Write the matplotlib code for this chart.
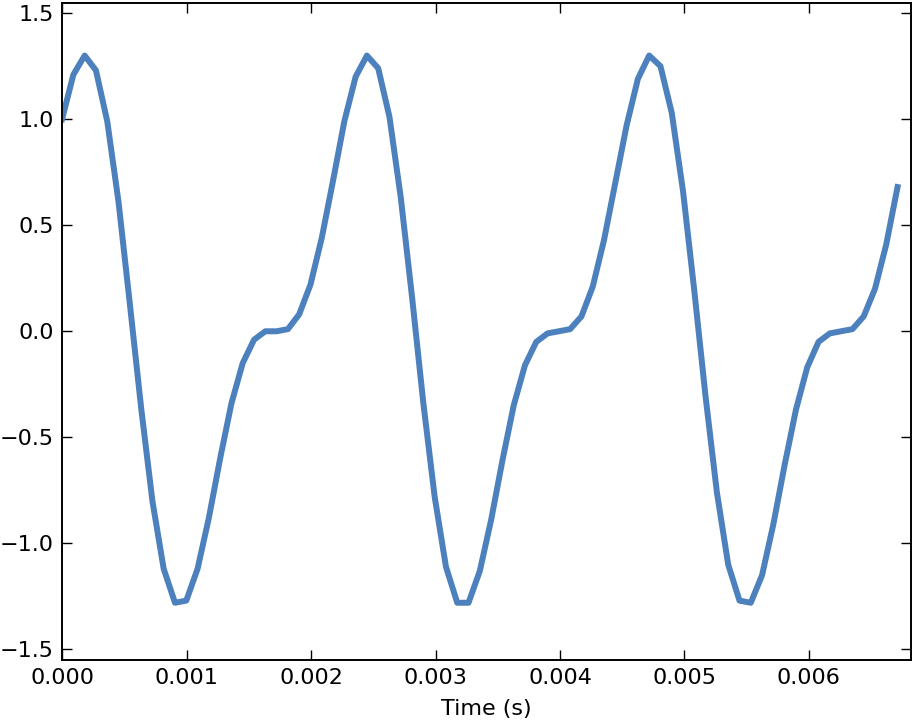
import numpy as np
from matplotlib import pyplot as plt
from matplotlib.ticker import FuncFormatter

# wave samples, framerate 11025 Hz
framerate = 11025
ys = [1.00, 1.21, 1.30, 1.23, 0.99, 0.61, 0.13, -0.36, -0.80, -1.12,
      -1.28, -1.27, -1.12, -0.88, -0.60, -0.34, -0.15, -0.04, -0.00, 0.00,
      0.01, 0.08, 0.22, 0.44, 0.71, 0.99, 1.20, 1.30, 1.24, 1.01,
      0.63, 0.16, -0.34, -0.78, -1.11, -1.28, -1.28, -1.13, -0.89, -0.61,
      -0.35, -0.16, -0.05, -0.01, 0.00, 0.01, 0.07, 0.21, 0.43, 0.70,
      0.97, 1.19, 1.30, 1.25, 1.03, 0.66, 0.19, -0.31, -0.76, -1.10,
      -1.27, -1.28, -1.15, -0.91, -0.63, -0.37, -0.17, -0.05, -0.01, 0.00,
      0.01, 0.07, 0.20, 0.41, 0.68]
ts = np.arange(len(ys)) / framerate

xticks = [0.000, 0.001, 0.002, 0.003, 0.004, 0.005, 0.006]
yticks = [-1.5, -1.0, -0.5, 0.0, 0.5, 1.0, 1.5]

plt.rcParams["font.family"] = "DejaVu Sans"
fig = plt.figure(figsize=(9.13, 7.2), dpi=100)
ax = fig.add_axes([0.068, 0.0833, 0.9298, 0.9132])

ax.plot(ts, ys, color="#4c81bd", linewidth=4.3)

ax.set_xlim(0, 0.00682)
ax.set_ylim(-1.55, 1.55)
ax.set_xticks(xticks)
ax.set_yticks(yticks)
ax.xaxis.set_major_formatter(FuncFormatter(lambda v, p: "%.3f" % v))
ax.yaxis.set_major_formatter(
    FuncFormatter(lambda v, p: ("%.1f" % v).replace("-", "\u2212")))
ax.tick_params(direction="in", length=7, width=1, labelsize=16,
               top=True, right=True)
ax.tick_params(axis="x", pad=6)
ax.tick_params(axis="y", pad=6)
ax.set_xlabel("Time (s)", fontsize=16, labelpad=8)
for side in ["top", "right", "bottom", "left"]:
    ax.spines[side].set_linewidth(1.4)

fig.savefig("out.png", dpi=100)
